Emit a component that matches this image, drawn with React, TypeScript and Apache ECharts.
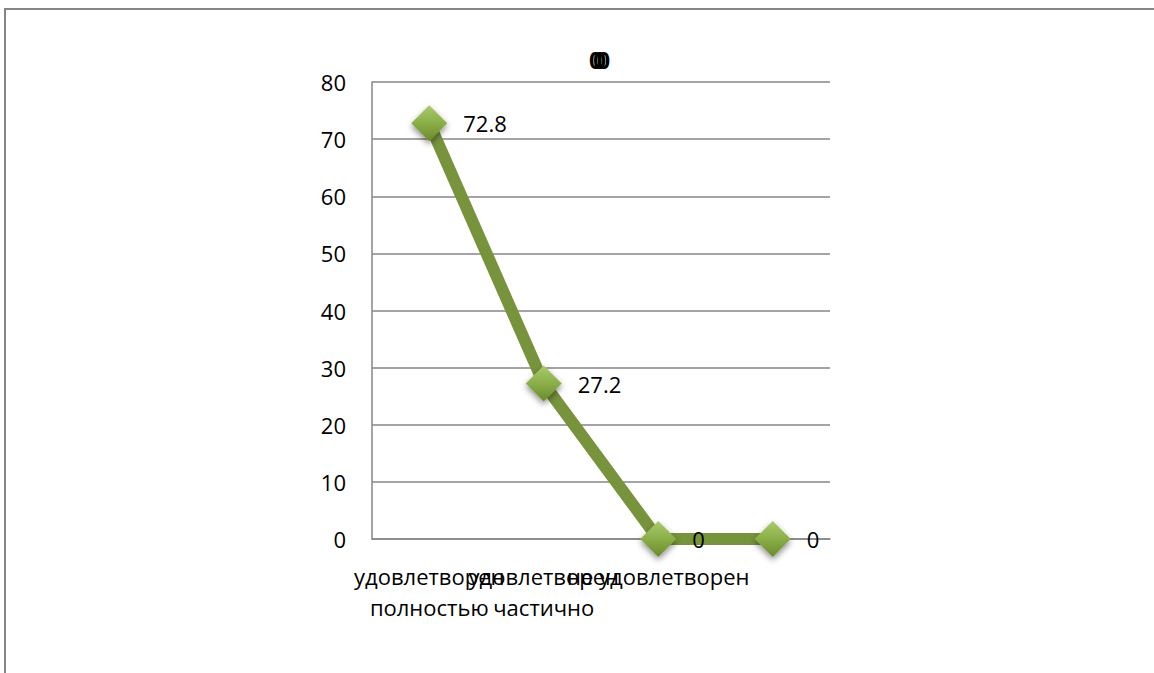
import React, { useEffect, useRef } from "react";
import * as echarts from "echarts";

const categories = ["удовлетворен\nполностью", "удовлетворен\nчастично", "не удовлетворен", ""];
const values = [72.8, 27.2, 0, 0];
const titleZeros = ["0", "0", "0"];

const FONT = "'Open Sans', 'DejaVu Sans', sans-serif";

export default function App() {
  const ref = useRef<HTMLDivElement>(null);
  useEffect(() => {
    if (!ref.current) return;
    const chart = echarts.init(ref.current, undefined, { renderer: "svg" });
    chart.setOption({
      animation: false,
      backgroundColor: "#ffffff",
      graphic: [
        {
          type: "rect",
          shape: { x: 5, y: 9, width: 1300, height: 800 },
          style: { fill: "none", stroke: "#868686", lineWidth: 2 },
          silent: true,
        },
        ...titleZeros.map((t, i) => ({
          type: "text",
          x: 589 + i * 4,
          y: 48,
          style: {
            text: t,
            fontSize: 23,
            fontWeight: "bold",
            fontFamily: FONT,
            fill: "#000",
          },
          silent: true,
        })),
      ],
      grid: { left: 372, right: 324, top: 82, bottom: 134, containLabel: false },
      xAxis: {
        type: "category",
        data: categories,
        boundaryGap: true,
        axisLine: { show: true, lineStyle: { color: "#868686", width: 1.5 } },
        axisTick: { show: false },
        axisLabel: {
          interval: 0,
          margin: 21,
          fontSize: 22,
          lineHeight: 31,
          color: "#000",
          fontFamily: FONT,
        },
        splitLine: { show: false },
      },
      yAxis: {
        type: "value",
        min: 0,
        max: 80,
        interval: 10,
        axisLine: { show: true, lineStyle: { color: "#868686", width: 1.5 } },
        axisTick: { show: false },
        axisLabel: { margin: 26, fontSize: 22, color: "#000", fontFamily: FONT },
        splitLine: { show: true, lineStyle: { color: "#868686", width: 1.5 } },
      },
      series: [
        {
          type: "line",
          data: values,
          symbol: "diamond",
          symbolSize: 36,
          lineStyle: { color: "#77933C", width: 12 },
          itemStyle: {
            color: new echarts.graphic.LinearGradient(0, 0, 0, 1, [
              { offset: 0, color: "#A9CB6B" },
              { offset: 0.5, color: "#8AAE48" },
              { offset: 1, color: "#6A8A2C" },
            ]),
            shadowColor: "rgba(0,0,0,0.45)",
            shadowBlur: 6,
            shadowOffsetY: 3,
          },
          label: {
            show: true,
            position: "right",
            distance: 16,
            fontSize: 22,
            color: "#000",
            fontFamily: FONT,
          },
          z: 3,
        },
      ],
    });
    return () => chart.dispose();
  }, []);
  return (
    <div
      ref={ref}
      style={{ position: "fixed", left: 0, top: 0, width: 1154, height: 673 }}
    />
  );
}
